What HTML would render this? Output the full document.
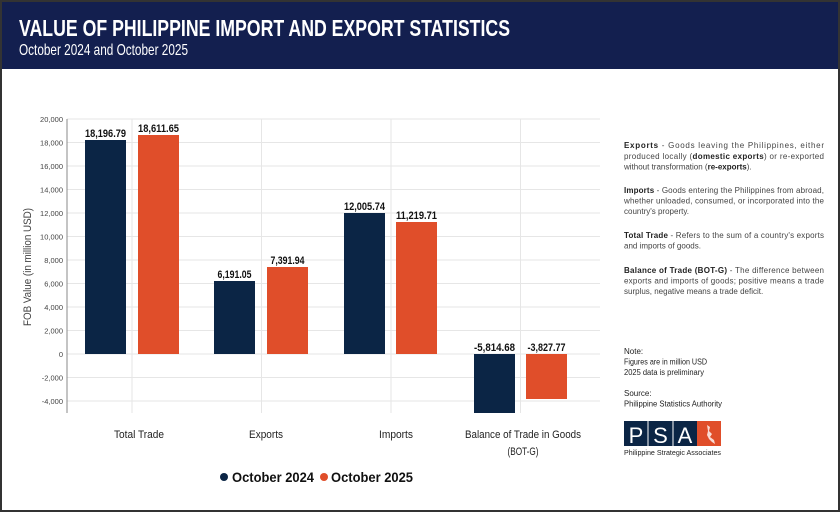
<!DOCTYPE html>
<html><head><meta charset="utf-8"><style>
html,body{margin:0;padding:0;background:#fff}
svg{display:block}
text{font-family:"Liberation Sans",sans-serif}
</style></head><body>
<svg width="840" height="512" viewBox="0 0 840 512" xmlns="http://www.w3.org/2000/svg">
<rect x="0" y="0" width="840" height="512" fill="#fff"/>
<rect x="0" y="0" width="840" height="69" fill="#131f4f"/>
<rect x="1" y="1" width="838" height="510" fill="none" stroke="#333" stroke-width="2"/>
<text x="19" y="36" font-size="23" font-weight="bold" fill="#fff" textLength="491" lengthAdjust="spacingAndGlyphs">VALUE OF PHILIPPINE IMPORT AND EXPORT STATISTICS</text>
<text x="19" y="55" font-size="16" fill="#fff" textLength="169" lengthAdjust="spacingAndGlyphs">October 2024 and October 2025</text>

<g stroke="#e6e6e6" stroke-width="1">
<line x1="67" x2="600" y1="119" y2="119"/><line x1="67" x2="600" y1="142.5" y2="142.5"/>
<line x1="67" x2="600" y1="166" y2="166"/><line x1="67" x2="600" y1="189.5" y2="189.5"/>
<line x1="67" x2="600" y1="213" y2="213"/><line x1="67" x2="600" y1="236.5" y2="236.5"/>
<line x1="67" x2="600" y1="260" y2="260"/><line x1="67" x2="600" y1="283.5" y2="283.5"/>
<line x1="67" x2="600" y1="307" y2="307"/><line x1="67" x2="600" y1="330.5" y2="330.5"/>
<line x1="67" x2="600" y1="354" y2="354"/><line x1="67" x2="600" y1="377.5" y2="377.5"/>
<line x1="67" x2="600" y1="401" y2="401"/>
<line x1="132" x2="132" y1="119" y2="413"/><line x1="261.5" x2="261.5" y1="119" y2="413"/>
<line x1="391" x2="391" y1="119" y2="413"/><line x1="520.5" x2="520.5" y1="119" y2="413"/>
</g>
<line x1="67" x2="67" y1="119" y2="413" stroke="#888" stroke-width="1"/>
<g font-size="7.5" fill="#444" text-anchor="end">
<text x="63" y="122">20,000</text><text x="63" y="145.5">18,000</text><text x="63" y="169">16,000</text>
<text x="63" y="192.5">14,000</text><text x="63" y="216">12,000</text><text x="63" y="239.5">10,000</text>
<text x="63" y="263">8,000</text><text x="63" y="286.5">6,000</text><text x="63" y="310">4,000</text>
<text x="63" y="333.5">2,000</text><text x="63" y="357">0</text><text x="63" y="380.5">-2,000</text>
<text x="63" y="404">-4,000</text>
</g>
<text transform="translate(31,267) rotate(-90)" font-size="11" fill="#444" text-anchor="middle" textLength="118" lengthAdjust="spacingAndGlyphs">FOB Value (in million USD)</text>

<g fill="#0b2545">
<rect x="85" y="140" width="41" height="214"/>
<rect x="214" y="281" width="41" height="73"/>
<rect x="344" y="213" width="41" height="141"/>
<rect x="474" y="354" width="41" height="59"/>
</g>
<g fill="#e04e2a">
<rect x="138" y="135" width="41" height="219"/>
<rect x="267" y="267" width="41" height="87"/>
<rect x="396" y="222" width="41" height="132"/>
<rect x="526" y="354" width="41" height="45"/>
</g>
<g font-size="11" font-weight="bold" fill="#111" text-anchor="middle">
<text x="105.5" y="137" textLength="41" lengthAdjust="spacingAndGlyphs">18,196.79</text>
<text x="158.5" y="132" textLength="41" lengthAdjust="spacingAndGlyphs">18,611.65</text>
<text x="234.5" y="278" textLength="34" lengthAdjust="spacingAndGlyphs">6,191.05</text>
<text x="287.5" y="264" textLength="34" lengthAdjust="spacingAndGlyphs">7,391.94</text>
<text x="364.5" y="210" textLength="41" lengthAdjust="spacingAndGlyphs">12,005.74</text>
<text x="416.5" y="219" textLength="41" lengthAdjust="spacingAndGlyphs">11,219.71</text>
<text x="494.5" y="351" textLength="41" lengthAdjust="spacingAndGlyphs">-5,814.68</text>
<text x="546.5" y="351" textLength="38" lengthAdjust="spacingAndGlyphs">-3,827.77</text>
</g>
<g font-size="11" fill="#222" text-anchor="middle">
<text x="139" y="438" textLength="50" lengthAdjust="spacingAndGlyphs">Total Trade</text>
<text x="266" y="438" textLength="34" lengthAdjust="spacingAndGlyphs">Exports</text>
<text x="396" y="438" textLength="34" lengthAdjust="spacingAndGlyphs">Imports</text>
<text x="523" y="438" textLength="116" lengthAdjust="spacingAndGlyphs">Balance of Trade in Goods</text>
<text x="523" y="455" textLength="31" lengthAdjust="spacingAndGlyphs">(BOT-G)</text>
</g>
<circle cx="224" cy="477" r="4" fill="#0b2545"/>
<text x="232" y="482" font-size="14" font-weight="bold" fill="#111" textLength="82" lengthAdjust="spacingAndGlyphs">October 2024</text>
<circle cx="324" cy="477" r="4" fill="#e04e2a"/>
<text x="331" y="482" font-size="14" font-weight="bold" fill="#111" textLength="82" lengthAdjust="spacingAndGlyphs">October 2025</text>

<g font-size="8" fill="#444">
<text x="624" y="148" textLength="200" lengthAdjust="spacing"><tspan font-weight="bold" fill="#222">Exports</tspan> - Goods leaving the Philippines, either</text>
<text x="624" y="159" textLength="200" lengthAdjust="spacing">produced locally (<tspan font-weight="bold" fill="#222">domestic exports</tspan>) or re-exported</text>
<text x="624" y="169.5">without transformation (<tspan font-weight="bold" fill="#222">re-exports</tspan>).</text>
<text x="624" y="193" textLength="200" lengthAdjust="spacing"><tspan font-weight="bold" fill="#222">Imports</tspan> - Goods entering the Philippines from abroad,</text>
<text x="624" y="203.5" textLength="200" lengthAdjust="spacing">whether unloaded, consumed, or incorporated into the</text>
<text x="624" y="214">country's property.</text>
<text x="624" y="238" textLength="200" lengthAdjust="spacing"><tspan font-weight="bold" fill="#222">Total Trade</tspan> - Refers to the sum of a country's exports</text>
<text x="624" y="248.5">and imports of goods.</text>
<text x="624" y="273" textLength="200" lengthAdjust="spacing"><tspan font-weight="bold" fill="#222">Balance of Trade (BOT-G)</tspan> - The difference between</text>
<text x="624" y="283.5" textLength="200" lengthAdjust="spacing">exports and imports of goods; positive means a trade</text>
<text x="624" y="294">surplus, negative means a trade deficit.</text>
</g>
<g font-size="8" fill="#222">
<text x="624" y="354">Note:</text>
<text x="624" y="364.5" textLength="83" lengthAdjust="spacingAndGlyphs">Figures are in million USD</text>
<text x="624" y="375" textLength="80" lengthAdjust="spacingAndGlyphs">2025 data is preliminary</text>
<text x="624" y="396">Source:</text>
<text x="624" y="406.5" textLength="98" lengthAdjust="spacingAndGlyphs">Philippine Statistics Authority</text>
</g>
<rect x="624" y="421" width="73" height="25" fill="#0b2545"/>
<rect x="697" y="421" width="24" height="25" fill="#e04e2a"/>
<g stroke="#fff" stroke-width="1"><line x1="648" y1="421" x2="648" y2="446"/><line x1="673" y1="421" x2="673" y2="446"/></g>
<g font-size="22" fill="#fff" text-anchor="middle"><text x="636" y="443">P</text><text x="660.5" y="443">S</text><text x="685" y="443">A</text></g>
<path d="M707 425 l3 2 l-1 4 l3 3 l-2 3 l4 3 l1 4 l-3 -2 l-3 -3 l-2 -4 l1 -4z" fill="#fff" opacity="0.8"/>
<text x="624" y="455" font-size="7" fill="#222" textLength="97" lengthAdjust="spacingAndGlyphs">Philippine Strategic Associates</text>
</svg>
</body></html>
